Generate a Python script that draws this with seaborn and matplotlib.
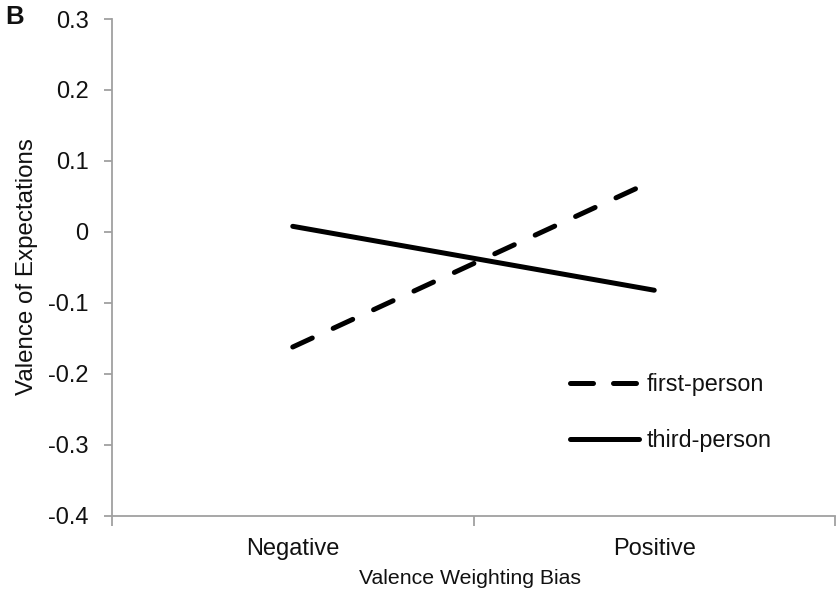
import matplotlib
matplotlib.use("Agg")
import matplotlib.pyplot as plt
import seaborn as sns
import pandas as pd
from matplotlib.ticker import FixedLocator
from matplotlib.lines import Line2D

categories = ["Negative", "Positive"]
first_person = [-0.162, 0.073]
third_person = [0.008, -0.082]
series_names = ["first-person", "third-person"]
y_ticks = [-0.4, -0.3, -0.2, -0.1, 0.0, 0.1, 0.2, 0.3]
y_tick_labels = ["-0.4", "-0.3", "-0.2", "-0.1", "0", "0.1", "0.2", "0.3"]

df = pd.DataFrame({
    "x": list(range(len(categories))) * 2,
    "value": first_person + third_person,
    "series": [series_names[0]] * len(categories) + [series_names[1]] * len(categories),
})

sns.set_theme(style="white")
plt.rcParams["font.family"] = ["Liberation Sans", "DejaVu Sans"]

fig = plt.figure(figsize=(8.38, 5.92), dpi=100)
ax = fig.add_axes([112 / 838, 1 - 516 / 592, (835 - 112) / 838, (516 - 19) / 592])

dash_pat = (4.3, 4.6)
sns.lineplot(
    data=df, x="x", y="value", hue="series", style="series",
    palette={series_names[0]: "black", series_names[1]: "black"},
    dashes={series_names[0]: dash_pat, series_names[1]: ""},
    linewidth=3.6, ax=ax, legend=False,
)
for ln in ax.lines:
    ln.set_dash_capstyle("round")
    ln.set_solid_capstyle("round")

ax.set_xlim(-0.5, 1.5)
ax.set_ylim(-0.4, 0.3)
ax.set_yticks(y_ticks)
ax.set_yticklabels(y_tick_labels)
ax.set_xticks(range(len(categories)))
ax.set_xticklabels(categories)
ax.xaxis.set_minor_locator(FixedLocator([-0.5, 0.5, 1.5]))
ax.tick_params(axis="x", which="major", length=0, pad=16, labelsize=17, colors="#111111")
ax.tick_params(axis="x", which="minor", bottom=True, length=7, width=1.3, color="#a0a0a0")
ax.tick_params(axis="y", which="major", left=True, length=6, width=1.3, color="#a0a0a0",
               pad=11, labelsize=17, labelcolor="#111111")

for side in ["top", "right"]:
    ax.spines[side].set_visible(False)
for side in ["left", "bottom"]:
    ax.spines[side].set_color("#a0a0a0")
    ax.spines[side].set_linewidth(1.3)

ax.set_xlabel("Valence Weighting Bias", fontsize=15.3, color="#111111")
ax.set_ylabel("Valence of Expectations", fontsize=17.4, color="#111111")
ax.xaxis.set_label_coords(469.5 / 838, 1 - 578 / 592, transform=fig.transFigure)
ax.yaxis.set_label_coords(27 / 838, 1 - 267 / 592, transform=fig.transFigure)
ax.xaxis.label.set_va("center")
ax.yaxis.label.set_va("center")

handles = [
    Line2D([], [], color="black", linewidth=3.6, dashes=(4.6, 4.0), dash_capstyle="round"),
    Line2D([], [], color="black", linewidth=3.6, solid_capstyle="round"),
]
leg = fig.legend(handles, series_names, loc="upper left",
                 bbox_to_anchor=(570 / 838, 1 - 373 / 592), frameon=False,
                 fontsize=16.8, handlelength=2.96, handletextpad=0.34,
                 labelspacing=1.42, borderpad=0, borderaxespad=0)
for t in leg.get_texts():
    t.set_color("#111111")

fig.text(15 / 838, 1 - 17 / 592, "B", fontsize=18.5, fontweight="bold",
         va="center", ha="center", color="#111111")

fig.savefig("out.png", dpi=100)
